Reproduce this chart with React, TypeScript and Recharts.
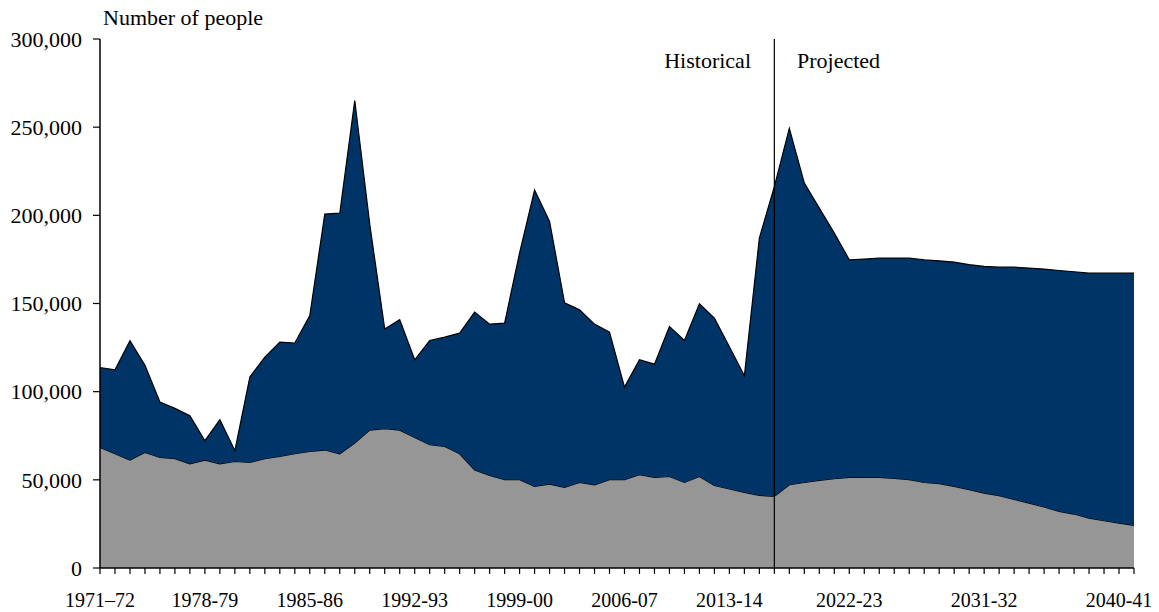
import React from "react";
import {
  AreaChart,
  Area,
  XAxis,
  YAxis,
  ReferenceLine,
  Customized,
} from "recharts";

const NAVY = "#003366";
const GREY = "#969696";
const SERIF = "'Liberation Serif', 'DejaVu Serif', 'Times New Roman', serif";

// start years of each period (the source axis skips 2014-15)
const START_YEARS = [
  ...Array.from({ length: 43 }, (_, i) => 1971 + i),
  ...Array.from({ length: 27 }, (_, i) => 2015 + i),
];
const PERIODS = START_YEARS.map(
  (y) => `${y}-${String((y + 1) % 100).padStart(2, "0")}`
);

const NATURAL_INCREASE = [
  68400, 64800, 61200, 65500, 62700, 62000, 59100, 61200, 59100, 60400,
  59900, 62000, 63300, 64800, 66100, 66900, 64800, 70900, 78200, 79000,
  78200, 74000, 69900, 68900, 64800, 55600, 52500, 50100, 50100, 46300,
  47600, 45700, 48500, 47200, 50100, 50100, 52900, 51400, 51900, 48500,
  51900, 46800, 44800, 42900, 41200, 40600, 47200, 48500, 49700, 50600,
  51400, 51400, 51400, 50800, 50100, 48500, 47800, 46300, 44400, 42500,
  41000, 38900, 36800, 34600, 32100, 30600, 28300, 26800, 25500, 24200,
];

const NET_MIGRATION = [
  45300, 47600, 67700, 49400, 31400, 28500, 27200, 11000, 25000, 6100,
  48400, 57600, 64800, 62800, 77100, 133800, 136400, 194200, 116800, 56500,
  62600, 44100, 59100, 62000, 68400, 89500, 85800, 88800, 128600, 168100,
  148900, 104700, 97900, 91100, 83700, 52500, 65200, 64200, 85100, 80500,
  97900, 94900, 80700, 66100, 145900, 175700, 202200, 169800, 154400, 139300,
  123400, 123800, 124300, 124900, 125600, 126300, 126400, 127200, 127600, 128500,
  129600, 131700, 133300, 134900, 136600, 137400, 138900, 140400, 141700, 143000,
];

// labelled categories -> displayed text
const TICK_LABELS: Record<string, string> = {
  "1971-72": "1971–72",
  "1978-79": "1978-79",
  "1985-86": "1985-86",
  "1992-93": "1992-93",
  "1999-00": "1999-00",
  "2006-07": "2006-07",
  "2013-14": "2013-14",
  "2022-23": "2022-23",
  "2031-32": "2031-32",
  "2040-41": "2040-41",
};

const Y_TICKS = [0, 50000, 100000, 150000, 200000, 250000, 300000];
const SPLIT_PERIOD = PERIODS[45];

const data = PERIODS.map((period, i) => ({
  period,
  natural: NATURAL_INCREASE[i],
  migration: NET_MIGRATION[i],
}));

const textStyle = { fontFamily: SERIF };

function XTick(props: any) {
  const { x, y, payload } = props;
  const label = TICK_LABELS[payload.value];
  if (!label) return null;
  return (
    <text
      x={x}
      y={y}
      dy="0.71em"
      textAnchor="middle"
      fill="#000"
      fontSize={20}
      style={textStyle}
    >
      {label}
    </text>
  );
}

function Labels() {
  return (
    <g style={textStyle}>
      <text x={103} y={25} fontSize={22} fill="#000">
        Number of people
      </text>
      <text x={751} y={68} fontSize={22} fill="#000" textAnchor="end">
        Historical
      </text>
      <text x={797} y={68} fontSize={22} fill="#000">
        Projected
      </text>
      <text x={819} y={397} fontSize={23} fontWeight="bold" fill="#fff">
        Net Migration
      </text>
      <text x={819} y={532} fontSize={23} fontWeight="bold" fill="#000">
        Natural Increase
      </text>
    </g>
  );
}

export default function App() {
  return (
    <div style={{ position: "absolute", left: 0, top: 0, fontFamily: SERIF }}>
      <AreaChart
        width={1159}
        height={612}
        data={data}
        margin={{ top: 39, right: 25, bottom: 0, left: 0 }}
      >
        <XAxis
          dataKey="period"
          interval={0}
          height={44}
          tick={<XTick />}
          tickSize={6}
          tickMargin={19}
          axisLine={{ stroke: "#000", strokeWidth: 1.5 }}
          tickLine={{ stroke: "#000", strokeWidth: 1.2 }}
        />
        <XAxis
          xAxisId="top"
          orientation="top"
          dataKey="period"
          height={0}
          tick={false}
          tickLine={false}
          axisLine={{ stroke: "#333", strokeWidth: 1.2 }}
        />
        <YAxis
          domain={[0, 300000]}
          ticks={Y_TICKS}
          width={100}
          tickSize={7}
          tickMargin={11}
          tick={{ fill: "#000", fontSize: 22, style: textStyle }}
          tickFormatter={(v) => Number(v).toLocaleString("en-US")}
          axisLine={{ stroke: "#000", strokeWidth: 1.5 }}
          tickLine={{ stroke: "#000", strokeWidth: 1.2 }}
        />
        <YAxis
          yAxisId="right"
          orientation="right"
          domain={[0, 300000]}
          width={0}
          tick={false}
          tickLine={false}
          axisLine={{ stroke: "#333", strokeWidth: 1.2 }}
        />
        <Area
          type="linear"
          dataKey="natural"
          stackId="pop"
          stroke="#000"
          strokeWidth={1.2}
          fill={GREY}
          fillOpacity={1}
          isAnimationActive={false}
        />
        <Area
          type="linear"
          dataKey="migration"
          stackId="pop"
          stroke="#000"
          strokeWidth={1.2}
          fill={NAVY}
          fillOpacity={1}
          isAnimationActive={false}
        />
        <ReferenceLine x={SPLIT_PERIOD} stroke="#000" strokeWidth={1.2} />
        <Customized component={Labels} />
      </AreaChart>
    </div>
  );
}
